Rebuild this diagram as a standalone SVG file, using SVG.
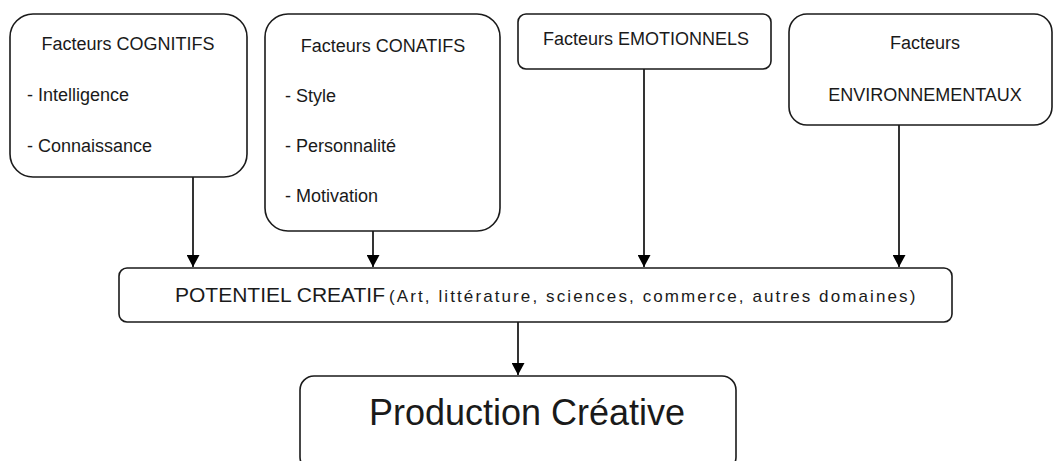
<svg xmlns="http://www.w3.org/2000/svg" width="1055" height="461" viewBox="0 0 1055 461">
<style>
.box{fill:#fff;stroke:#1a1a1a;stroke-width:1.6}
.t{font-family:"Liberation Sans",Arial,sans-serif;fill:#1a1a1a}
.s{font-size:18px}
.c{text-anchor:middle}
.edge{stroke:#000;stroke-width:1.6;fill:none;marker-end:url(#ah)}
</style>
<defs>
<marker id="ah" markerWidth="14" markerHeight="13" refX="13" refY="7" orient="auto" markerUnits="userSpaceOnUse" viewBox="0 0 13 14">
<path d="M0,0 L13,7 L0,14 Z" fill="#000"/>
</marker>
</defs>
<rect width="1055" height="461" fill="#fff"/>
<g id="connectors">
<line class="edge" x1="193" y1="177" x2="193" y2="267"/>
<line class="edge" x1="373" y1="231" x2="373" y2="267"/>
<line class="edge" x1="644" y1="69" x2="644" y2="267"/>
<line class="edge" x1="899" y1="125" x2="899" y2="267"/>
<line class="edge" x1="518" y1="322" x2="518" y2="375"/>
</g>
<g id="cognitifs">
<rect class="box" x="10" y="14" width="237" height="163" rx="23"/>
<text class="t s c" x="128" y="50">Facteurs COGNITIFS</text>
<text class="t s" x="27" y="101">- Intelligence</text>
<text class="t s" x="27" y="152">- Connaissance</text>
</g>
<g id="conatifs">
<rect class="box" x="265" y="14" width="235" height="217" rx="23"/>
<text class="t s c" x="383" y="52">Facteurs CONATIFS</text>
<text class="t s" x="285" y="102">- Style</text>
<text class="t s" x="285" y="152">- Personnalité</text>
<text class="t s" x="285" y="202">- Motivation</text>
</g>
<g id="emotionnels">
<rect class="box" x="518" y="14" width="253" height="55" rx="8"/>
<text class="t s c" x="646" y="45">Facteurs EMOTIONNELS</text>
</g>
<g id="environnementaux">
<rect class="box" x="789" y="14" width="263" height="111" rx="18"/>
<text class="t s c" x="925" y="49">Facteurs</text>
<text class="t s c" x="925" y="101">ENVIRONNEMENTAUX</text>
</g>
<g id="potentiel">
<rect class="box" x="119" y="268" width="833" height="54" rx="8"/>
<text class="t" x="175" y="302"><tspan font-size="21">POTENTIEL CREATIF</tspan><tspan font-size="17" letter-spacing="2.1" dx="4">(Art, littérature, sciences, commerce, autres domaines)</tspan></text>
</g>
<g id="production">
<rect class="box" x="300" y="376" width="436" height="95" rx="14"/>
<text class="t c" x="527" y="425" font-size="36">Production Créative</text>
</g>
</svg>
